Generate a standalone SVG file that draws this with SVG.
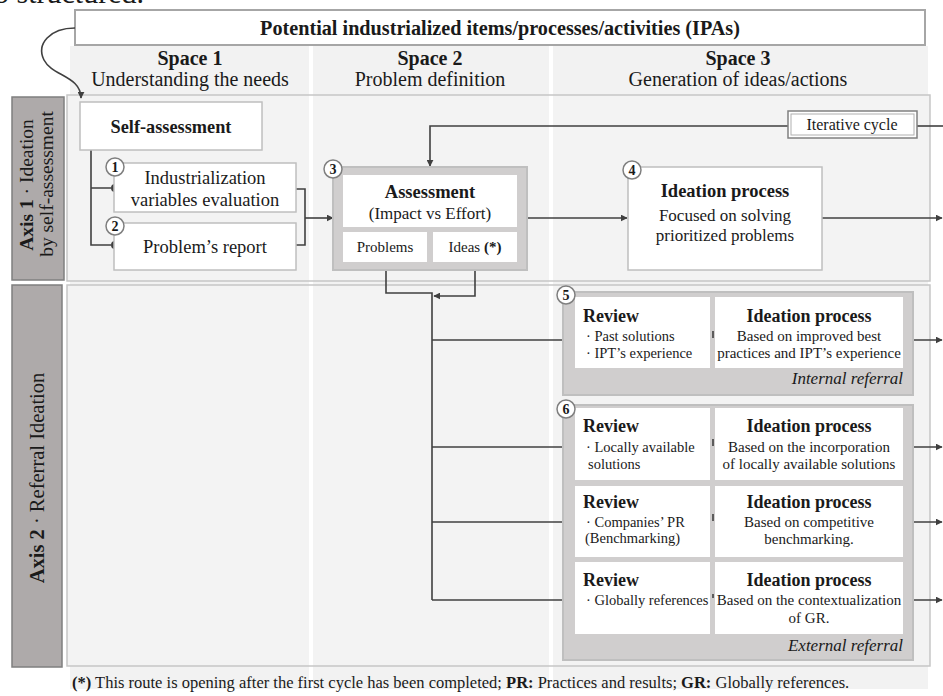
<svg xmlns="http://www.w3.org/2000/svg" width="943" height="696" viewBox="0 0 943 696">
<style>
.t{font-family:"Liberation Serif","Times New Roman",serif;fill:#1a1a1a}
.b{font-weight:bold}
.i{font-style:italic}
.m{text-anchor:middle}
.e{text-anchor:end}
.panel{fill:#f3f3f3}
.pstroke{fill:none;stroke:#c6c6c6;stroke-width:1.5}
.axis{fill:#aeaaaa;stroke:#7f7f7f;stroke-width:1.5}
.wbox{fill:#fff;stroke:#bfbfbf;stroke-width:1.5}
.gbox{fill:#d0cece;stroke:#bfbfbf;stroke-width:2}
.ln{fill:none;stroke:#404040;stroke-width:1.6}
.circ{fill:#fff;stroke:#7f7f7f;stroke-width:1.5}
.sep{fill:#fff}
</style>
<defs>
<marker id="ah" viewBox="0 0 10 10" refX="9" refY="5" markerWidth="7" markerHeight="7" orient="auto" markerUnits="userSpaceOnUse">
<path d="M0,0 L10,5 L0,10 z" fill="#404040"/>
</marker>
</defs>
<rect width="943" height="696" fill="#fff"/>
<text class="t" x="-6" y="3" font-size="30">o structured.</text>

<!-- background -->
<rect x="70" y="46" width="858" height="643" fill="#f2f2f2"/>
<rect class="panel" x="67" y="95" width="863" height="186"/>
<rect class="panel" x="67" y="285" width="863" height="381"/>
<rect class="sep" x="309" y="46" width="4" height="643"/>
<rect class="sep" x="549" y="46" width="4" height="643"/>
<rect class="pstroke" x="67" y="95" width="863" height="186"/>
<rect class="pstroke" x="67" y="285" width="863" height="381"/>

<g id="header">
<rect x="75" y="10" width="850" height="35" fill="#fff" stroke="#a6a6a6" stroke-width="2"/>
<text class="t b m" x="500" y="35" font-size="20.2">Potential industrialized items/processes/activities (IPAs)</text>
</g>
<g id="space1">
<text class="t b m" x="190" y="65" font-size="20">Space 1</text>
<text class="t m" x="190" y="86" font-size="20">Understanding the needs</text>
</g>
<g id="space2">
<text class="t b m" x="430" y="65" font-size="20">Space 2</text>
<text class="t m" x="430" y="86" font-size="20">Problem definition</text>
</g>
<g id="space3">
<text class="t b m" x="738" y="65" font-size="20">Space 3</text>
<text class="t m" x="738" y="86" font-size="20">Generation of ideas/actions</text>
</g>

<g id="axis1">
<rect class="axis" x="12" y="97" width="52" height="183"/>
<text class="t m" transform="translate(33,185) rotate(-90)" font-size="19.5"><tspan class="b">Axis 1</tspan> · Ideation</text>
<text class="t m" transform="translate(53,184) rotate(-90)" font-size="19.5">by self-assessment</text>
</g>
<g id="axis2">
<rect class="axis" x="12" y="285" width="50" height="382"/>
<text class="t m" transform="translate(44,478) rotate(-90)" font-size="20.5"><tspan class="b">Axis 2</tspan> · Referral Ideation</text>
</g>

<g id="connectors">
<path class="ln" d="M75,28 C50,28 36,44 44,60 C52,76 81,76 81,98" marker-end="url(#ah)"/>
<path class="ln" d="M91,150 V245 H111 M91,188 H111"/>
<circle cx="115" cy="188" r="4" fill="#404040"/>
<circle cx="115" cy="245" r="4" fill="#404040"/>
<path class="ln" d="M296,189 H305 V245 H296"/>
<path class="ln" d="M305,218 H333" marker-end="url(#ah)"/>
<path class="ln" d="M527,218 H627" marker-end="url(#ah)"/>
<path class="ln" d="M943,126 H917"/>
<path class="ln" d="M788,126 H430 V166" marker-end="url(#ah)"/>
<path class="ln" d="M822,218 H942" marker-end="url(#ah)"/>
<path class="ln" d="M386,262 V293 H432 V600"/>
<path class="ln" d="M475,262 V296 H434" marker-end="url(#ah)"/>
<path class="ln" d="M432,340 H575" marker-end="url(#ah)"/>
<path class="ln" d="M432,447 H575" marker-end="url(#ah)"/>
<path class="ln" d="M432,522 H575" marker-end="url(#ah)"/>
<path class="ln" d="M432,600 H575" marker-end="url(#ah)"/>
<path class="ln" d="M903,340 H942" marker-end="url(#ah)"/>
<path class="ln" d="M903,447 H942" marker-end="url(#ah)"/>
<path class="ln" d="M903,522 H942" marker-end="url(#ah)"/>
<path class="ln" d="M903,600 H942" marker-end="url(#ah)"/>
</g>

<g id="self-assessment">
<rect class="wbox" x="80" y="102" width="182" height="48"/>
<text class="t b m" x="171" y="133" font-size="18.3">Self-assessment</text>
</g>
<g id="n1">
<rect class="wbox" x="114" y="163" width="182" height="49"/>
<text class="t m" x="205" y="184" font-size="18.5">Industrialization</text>
<text class="t m" x="205" y="206" font-size="18.5">variables evaluation</text>
<circle class="circ" cx="115" cy="167" r="9"/>
<text class="t b m" x="115" y="172" font-size="14">1</text>
</g>
<g id="n2">
<rect class="wbox" x="114" y="223" width="182" height="47"/>
<text class="t m" x="205" y="253" font-size="18.5">Problem’s report</text>
<circle class="circ" cx="115" cy="226" r="9"/>
<text class="t b m" x="115" y="231" font-size="14">2</text>
</g>
<g id="n3">
<rect class="gbox" x="333" y="167" width="194" height="103"/>
<rect x="343" y="175" width="174" height="52" fill="#fff"/>
<rect x="343" y="232" width="84" height="30" fill="#fff"/>
<rect x="433" y="232" width="84" height="30" fill="#fff"/>
<text class="t b m" x="430" y="198" font-size="18.5">Assessment</text>
<text class="t m" x="430" y="219" font-size="17">(Impact vs Effort)</text>
<text class="t m" x="385" y="252" font-size="15">Problems</text>
<text class="t m" x="475" y="252" font-size="15">Ideas <tspan class="b">(*)</tspan></text>
<circle class="circ" cx="333" cy="169" r="9"/>
<text class="t b m" x="333" y="174" font-size="14">3</text>
</g>
<g id="iterative">
<rect x="788" y="111" width="129" height="27" fill="#fff" stroke="#808080" stroke-width="1.5"/>
<rect x="791" y="114" width="123" height="21" fill="none" stroke="#b0b0b0" stroke-width="1"/>
<text class="t m" x="852" y="130" font-size="16">Iterative cycle</text>
</g>
<g id="n4">
<rect class="wbox" x="628" y="167" width="194" height="103"/>
<text class="t b m" x="725" y="197" font-size="18.5">Ideation process</text>
<text class="t m" x="725" y="221" font-size="17">Focused on solving</text>
<text class="t m" x="725" y="241" font-size="17">prioritized problems</text>
<circle class="circ" cx="632" cy="170" r="9"/>
<text class="t b m" x="632" y="175" font-size="14">4</text>
</g>

<g id="n5">
<rect class="gbox" x="563" y="292" width="350" height="103"/>
<rect x="575" y="297" width="135" height="71" fill="#fff"/>
<rect x="715" y="297" width="188" height="71" fill="#fff"/>
<path class="ln" d="M713,331 V338"/>
<text class="t b" x="583" y="322" font-size="18">Review</text>
<text class="t" x="586" y="341" font-size="14.5">· Past solutions</text>
<text class="t" x="586" y="358" font-size="14.5">· IPT’s experience</text>
<text class="t b m" x="809" y="322" font-size="18">Ideation process</text>
<text class="t m" x="809" y="341" font-size="15">Based on improved best</text>
<text class="t m" x="809" y="358" font-size="15">practices and IPT’s experience</text>
<text class="t i e" x="903" y="384" font-size="17">Internal referral</text>
<circle class="circ" cx="566" cy="295" r="9"/>
<text class="t b m" x="566" y="300" font-size="14">5</text>
</g>

<g id="n6">
<rect class="gbox" x="563" y="405" width="350" height="255"/>
<rect x="575" y="408" width="135" height="72" fill="#fff"/>
<rect x="715" y="408" width="188" height="72" fill="#fff"/>
<rect x="575" y="486" width="135" height="71" fill="#fff"/>
<rect x="715" y="486" width="188" height="71" fill="#fff"/>
<rect x="575" y="562" width="135" height="72" fill="#fff"/>
<rect x="715" y="562" width="188" height="72" fill="#fff"/>
<path class="ln" d="M713,439 V446 M713,514 V521 M713,594 V598"/>
<text class="t b" x="583" y="432" font-size="18">Review</text>
<text class="t" x="586" y="452" font-size="14.5">· Locally available</text>
<text class="t" x="588" y="469" font-size="14.5">solutions</text>
<text class="t b m" x="809" y="432" font-size="18">Ideation process</text>
<text class="t m" x="809" y="452" font-size="15">Based on the incorporation</text>
<text class="t m" x="809" y="469" font-size="15">of locally available solutions</text>
<text class="t b" x="583" y="508" font-size="18">Review</text>
<text class="t" x="586" y="527" font-size="14.5">· Companies’ PR</text>
<text class="t" x="585" y="543" font-size="14.5">(Benchmarking)</text>
<text class="t b m" x="809" y="508" font-size="18">Ideation process</text>
<text class="t m" x="809" y="527" font-size="15">Based on competitive</text>
<text class="t m" x="809" y="544" font-size="15">benchmarking.</text>
<text class="t b" x="583" y="586" font-size="18">Review</text>
<text class="t" x="586" y="605" font-size="14.5">· Globally references</text>
<text class="t b m" x="809" y="586" font-size="18">Ideation process</text>
<text class="t m" x="809" y="605" font-size="15">Based on the contextualization</text>
<text class="t m" x="809" y="623" font-size="15">of GR.</text>
<text class="t i e" x="903" y="651" font-size="17">External referral</text>
<circle class="circ" cx="566" cy="409" r="9"/>
<text class="t b m" x="566" y="414" font-size="14">6</text>
</g>

<g id="footnote">
<text class="t" x="72" y="688" font-size="16.5"><tspan class="b">(*)</tspan> This route is opening after the first cycle has been completed; <tspan class="b">PR:</tspan> Practices and results; <tspan class="b">GR:</tspan> Globally references.</text>
</g>
</svg>
